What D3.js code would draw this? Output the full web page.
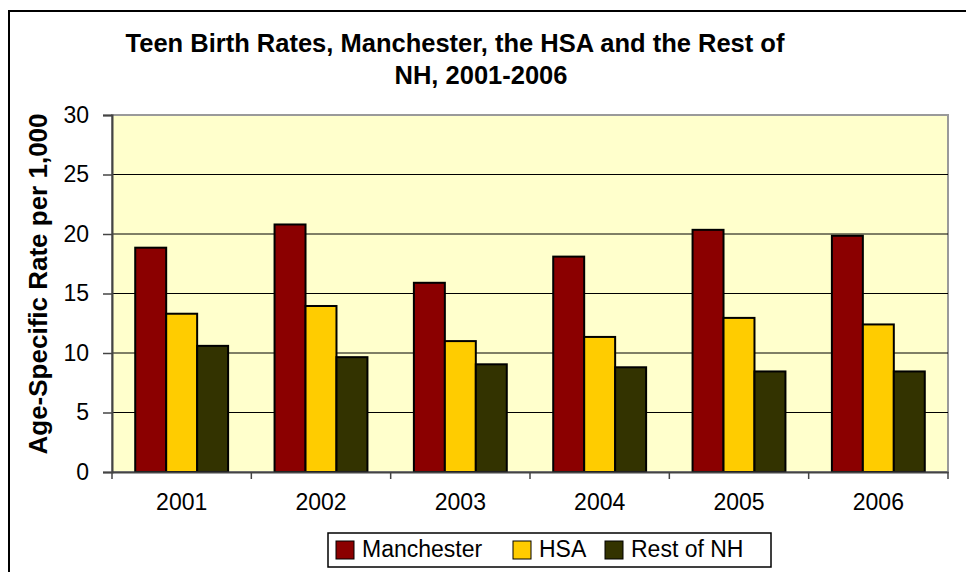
<!DOCTYPE html>
<html><head><meta charset="utf-8">
<script src="https://cdn.jsdelivr.net/npm/d3@7"></script>
<style>body{margin:0;background:#fff;} svg{display:block;font-family:"Liberation Sans",Arial,sans-serif;}</style>
</head><body>
<svg id="c" width="966" height="572"></svg>
<script>
const years = ["2001","2002","2003","2004","2005","2006"];
const seriesNames = ["Manchester","HSA","Rest of NH"];
const manchester = [18.85, 20.8, 15.9, 18.1, 20.35, 19.85];
const hsa = [13.3, 13.95, 11.0, 11.35, 12.95, 12.4];
const restOfNH = [10.6, 9.65, 9.05, 8.8, 8.45, 8.45];
const yTicks = [0,5,10,15,20,25,30];
const colors = ["#8b0000","#ffcc00","#333300"];
const titleLines = ["Teen Birth Rates, Manchester, the HSA and the Rest of","NH, 2001-2006"];
const yLabel = "Age-Specific Rate per 1,000";

const values = [manchester, hsa, restOfNH];
const svg = d3.select("#c");
const L=112, R=948, T=115, B=472;

// outer chart border
svg.append("rect").attr("x",9).attr("y",11).attr("width",1000).attr("height",600)
  .attr("fill","#fff").attr("stroke","#000").attr("stroke-width",2);

const x0 = d3.scaleBand().domain(years).range([L,R]).paddingInner(1/3).paddingOuter(1/6);
const x1 = d3.scaleBand().domain(seriesNames).range([0,x0.bandwidth()]);
const y = d3.scaleLinear().domain([0,30]).range([B,T]);

// plot area
svg.append("rect").attr("x",L).attr("y",T).attr("width",R-L).attr("height",B-T)
  .attr("fill","#ffffcc").attr("stroke","#9a9a9a").attr("stroke-width",2);

// gridlines
svg.append("g").selectAll("line").data(yTicks.filter(d=>d>0&&d<30)).join("line")
  .attr("x1",L).attr("x2",R).attr("y1",d=>y(d)).attr("y2",d=>y(d))
  .attr("stroke","#000").attr("stroke-width",1);

// bars
const g = svg.append("g");
years.forEach((yr,i)=>{
  seriesNames.forEach((s,j)=>{
    g.append("rect")
      .attr("x",x0(yr)+x1(s)).attr("width",x1.bandwidth())
      .attr("y",y(values[j][i])).attr("height",y(0)-y(values[j][i]))
      .attr("fill",colors[j]).attr("stroke","#000").attr("stroke-width",2);
  });
});

// y axis
const ya = svg.append("g").attr("transform",`translate(${L},0)`)
  .call(d3.axisLeft(y).tickValues(yTicks).tickSize(9).tickPadding(14));
ya.select(".domain").attr("stroke","#444").attr("stroke-width",2);
ya.selectAll(".tick line").attr("stroke","#444").attr("stroke-width",1.5);
ya.selectAll("text").attr("font-size",23).attr("fill","#000").attr("font-family","Liberation Sans, Arial, sans-serif");

// x axis
const xa = svg.append("g").attr("transform",`translate(0,${B})`)
  .call(d3.axisBottom(x0).tickSize(0).tickPadding(22));
xa.select(".domain").attr("stroke","#444").attr("stroke-width",2);
xa.selectAll("text").attr("font-size",23).attr("fill","#000").attr("font-family","Liberation Sans, Arial, sans-serif");
const step = x0.step();
const bounds = years.map(d=>x0(d)-step*x0.paddingInner()/2).concat([x0(years[years.length-1])+x0.bandwidth()+step*x0.paddingInner()/2]);
svg.append("g").selectAll("line").data(bounds).join("line")
  .attr("x1",d=>d).attr("x2",d=>d).attr("y1",B).attr("y2",B+7)
  .attr("stroke","#444").attr("stroke-width",1.5);

// title
svg.append("text").attr("x",455).attr("y",52).attr("text-anchor","middle")
  .attr("font-size",25.5).attr("font-weight","bold").text(titleLines[0]);
svg.append("text").attr("x",481).attr("y",84).attr("text-anchor","middle")
  .attr("font-size",25.5).attr("font-weight","bold").text(titleLines[1]);

// y label
svg.append("text").attr("transform","translate(47,284) rotate(-90)").attr("text-anchor","middle")
  .attr("font-size",26).attr("font-weight","bold").text(yLabel);

// legend
svg.append("rect").attr("x",328).attr("y",533).attr("width",443).attr("height",34)
  .attr("fill","#fff").attr("stroke","#000").attr("stroke-width",1.5);
const legX = [336,513,605];
seriesNames.forEach((s,j)=>{
  svg.append("rect").attr("x",legX[j]).attr("y",541).attr("width",18).attr("height",18)
    .attr("fill",colors[j]).attr("stroke","#000").attr("stroke-width",1);
  svg.append("text").attr("x",legX[j]+26).attr("y",557).attr("font-size",23).text(s);
});
</script>
</body></html>
